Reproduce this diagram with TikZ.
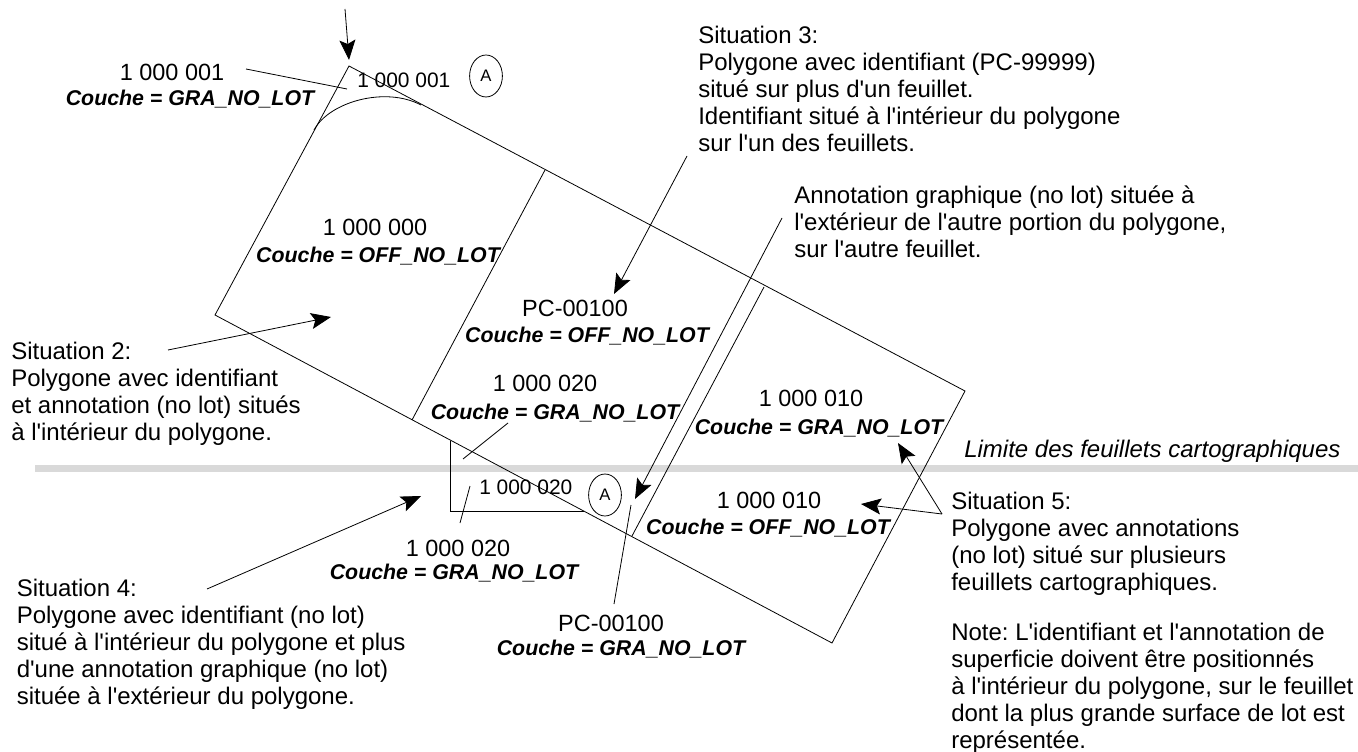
\documentclass[tikz,border=0pt]{standalone}
\usepackage{fontspec}
\setmainfont{Liberation Sans}
\usetikzlibrary{arrows.meta}
\usetikzlibrary{shapes.geometric}
\tikzset{
  txt/.style={inner sep=0pt, align=left, anchor=north west, font=\fontsize{18}{20.25}\selectfont},
  lotnum/.style={inner sep=0pt, font=\fontsize{17.6}{20}\selectfont},
  lotint/.style={inner sep=0pt, anchor=west, font=\fontsize{15.7}{18}\selectfont},
  couche/.style={inner sep=0pt, font=\fontsize{16}{18}\selectfont\bfseries\itshape},
  lien/.style={line width=0.6pt},
  pointeur/.style={line width=0.6pt, -{Stealth[length=15pt, width=12pt, inset=3pt]}},
  feuille/.style={line width=0.6pt},
  cercle/.style={draw, ellipse, line width=0.6pt, minimum width=24.6pt, minimum height=31.5pt, inner sep=0pt, font=\fontsize{12.5}{14}\selectfont}
}
\begin{document}
\begin{tikzpicture}[x=0.75pt, y=-0.75pt]
\frenchspacing
\useasboundingbox (0,0) rectangle (1358,752);
\draw[line width=5pt, color={rgb,255:red,217;green,217;blue,217}] (35,468.7) -- (1358,468.7);
\coordinate (apex) at (349,66);
\coordinate (droite) at (965,391);
\coordinate (bas) at (832,643);
\coordinate (gauche) at (215,315);
\coordinate (pliA1) at (545,170);
\coordinate (pliA2) at (412,420);
\coordinate (pliB1) at (764,287);
\coordinate (pliB2) at (632,536);
\coordinate (coinA) at (450,441);
\coordinate (coinB) at (450,511);
\coordinate (coinC) at (584,511);
\coordinate (arrondi1) at (314,130);
\coordinate (arrondi2) at (421,105);
\draw[feuille] (apex) -- (droite) -- (bas) -- (gauche) -- cycle;
\draw[feuille] (pliA1) -- (pliA2);
\draw[feuille] (pliB1) -- (pliB2);
\draw[feuille] (coinA) -- (coinB) -- (coinC);
\draw[feuille] (arrondi1) .. controls (329,102) and (385,86) .. (arrondi2);
\node[cercle] (circA) at (486,76) {A};
\node[cercle] (circB) at (605,495) {A};
\node[lotint] (lotInt) at (357,80) {1 000 001};
\node[lotint] (lotInf) at (479,487) {1 000 020};
\node[lotnum] (lotA) at (172,72) {1 000 001};
\node[couche] (coA) at (190,99) {Couche = GRA\_NO\_LOT};
\node[lotnum] (lotB) at (375,227) {1 000 000};
\node[couche] (coB) at (378,256) {Couche = OFF\_NO\_LOT};
\node[lotnum] (lotC) at (575,308) {PC-00100};
\node[couche] (coC) at (587,336) {Couche = OFF\_NO\_LOT};
\node[lotnum] (lotD) at (545,383) {1 000 020};
\node[couche] (coD) at (555,413) {Couche = GRA\_NO\_LOT};
\node[lotnum] (lotE) at (811,398) {1 000 010};
\node[couche] (coE) at (819,428) {Couche = GRA\_NO\_LOT};
\node[lotnum] (lotF) at (769,500) {1 000 010};
\node[couche] (coF) at (768,528) {Couche = OFF\_NO\_LOT};
\node[lotnum] (lotG) at (458,548) {1 000 020};
\node[couche] (coG) at (454,573) {Couche = GRA\_NO\_LOT};
\node[lotnum] (lotH) at (611,623) {PC-00100};
\node[couche] (coH) at (621,649) {Couche = GRA\_NO\_LOT};
\node[txt] (sitB) at (11,341.5) {Situation 2:\\Polygone avec identifiant\\et annotation (no lot) situés\\à l\textquotesingle intérieur du polygone.};
\node[txt] (sitC) at (698,25.5) {Situation 3:\\Polygone avec identifiant (PC-99999)\\situé sur plus d\textquotesingle un feuillet.\\Identifiant situé à l\textquotesingle intérieur du polygone\\sur l\textquotesingle un des feuillets.};
\node[txt] (annot) at (794,185.5) {Annotation graphique (no lot) située à\\l\textquotesingle extérieur de l\textquotesingle autre portion du polygone,\\sur l\textquotesingle autre feuillet.};
\node[txt] (sitD) at (16.5,579) {Situation 4:\\Polygone avec identifiant (no lot)\\situé à l\textquotesingle intérieur du polygone et plus\\d\textquotesingle une annotation graphique (no lot)\\située à l\textquotesingle extérieur du polygone.};
\node[txt] (sitE) at (951,491.5) {Situation 5:\\Polygone avec annotations\\(no lot) situé sur plusieurs\\feuillets cartographiques.};
\node[txt] (note) at (951,622.5) {Note: L\textquotesingle identifiant et l\textquotesingle annotation de\\superficie doivent être positionnés\\à l\textquotesingle intérieur du polygone, sur le feuillet\\dont la plus grande surface de lot est\\représentée.};
\node[txt, font=\fontsize{18}{20}\selectfont\itshape] (limite) at (964,439.5) {Limite des feuillets cartographiques};
\coordinate (hautDep) at (345,9);
\coordinate (hautFin) at (349,60);
\coordinate (lienA1) at (246,69);
\coordinate (lienA2) at (347,89);
\coordinate (lienD1) at (508,423);
\coordinate (lienD2) at (463,459);
\coordinate (lienG1) at (470,486);
\coordinate (lienG2) at (460,523);
\coordinate (lienH1) at (631,505);
\coordinate (lienH2) at (614,604);
\coordinate (flecheB1) at (168,350);
\coordinate (flecheB2) at (331,317);
\coordinate (flecheC1) at (687,156);
\coordinate (flecheC2) at (614,294);
\coordinate (flecheAn1) at (782,218);
\coordinate (flecheAn2) at (635,499);
\coordinate (flecheD1) at (207,589);
\coordinate (flecheD2) at (421,496);
\coordinate (flecheE0) at (942,514);
\coordinate (flecheE1) at (861,504);
\coordinate (flecheE2) at (898,443);
\draw[pointeur] (hautDep) -- (hautFin);
\draw[lien] (lienA1) -- (lienA2);
\draw[lien] (lienD1) -- (lienD2);
\draw[lien] (lienG1) -- (lienG2);
\draw[lien] (lienH1) -- (lienH2);
\draw[pointeur] (flecheB1) -- (flecheB2);
\draw[pointeur] (flecheC1) -- (flecheC2);
\draw[pointeur] (flecheAn1) -- (flecheAn2);
\draw[pointeur] (flecheD1) -- (flecheD2);
\draw[pointeur] (flecheE0) -- (flecheE1);
\draw[pointeur] (flecheE0) -- (flecheE2);
\end{tikzpicture}
\end{document}
